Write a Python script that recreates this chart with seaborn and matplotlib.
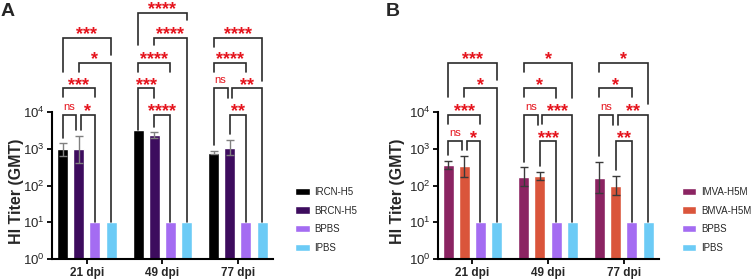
import numpy as np
import pandas as pd
import matplotlib
matplotlib.use("Agg")
import matplotlib.pyplot as plt
from matplotlib.ticker import FixedLocator, FixedFormatter, NullLocator
import seaborn as sns

# ---- data ----
days = ["21 dpi", "49 dpi", "77 dpi"]

groups_a = ["IRCN-H5", "BRCN-H5", "BPBS", "IPBS"]
colors_a = ["#000000", "#3d0c5e", "#a46cf2", "#6ccbf6"]
ircn_gmt = [950, 3200, 775]
ircn_lo = [640, 3200, 700]
ircn_hi = [1390, 3200, 860]
brcn_gmt = [950, 2330, 1060]
brcn_lo = [400, 1990, 670]
brcn_hi = [2200, 2770, 1710]

groups_b = ["IMVA-H5M", "BMVA-H5M", "BPBS", "IPBS"]
colors_b = ["#8b2462", "#da553b", "#a46cf2", "#6ccbf6"]
imva_gmt = [360, 174, 163]
imva_lo = [275, 97, 64]
imva_hi = [470, 310, 445]
bmva_gmt = [340, 178, 97]
bmva_lo = [174, 138, 55]
bmva_hi = [640, 235, 181]

bpbs_gmt = [10, 10, 10]
ipbs_gmt = [10, 10, 10]

# comparisons: (day, bar i, bar j, label)
sig_a = [
    (0, 0, 1, "ns"), (0, 1, 2, "*"), (0, 0, 2, "***"), (0, 1, 3, "*"), (0, 0, 3, "***"),
    (1, 0, 3, "****"), (1, 1, 3, "****"), (1, 0, 2, "****"), (1, 0, 1, "***"), (1, 1, 2, "****"),
    (2, 0, 3, "****"), (2, 0, 2, "****"), (2, 0, 1, "ns"), (2, 1, 3, "**"), (2, 1, 2, "**"),
]
sig_b = [
    (0, 0, 3, "***"), (0, 1, 3, "*"), (0, 0, 2, "***"), (0, 0, 1, "ns"), (0, 1, 2, "*"),
    (1, 0, 3, "*"), (1, 0, 2, "*"), (1, 0, 1, "ns"), (1, 1, 3, "***"), (1, 1, 2, "***"),
    (2, 0, 3, "*"), (2, 0, 2, "*"), (2, 0, 1, "ns"), (2, 1, 3, "**"), (2, 1, 2, "**"),
]

# bracket layout (log10 height of bar, left leg end, right leg end; None = down to bar)
L0, L1, L2, L3, L4, L5 = 3.2, 3.91, 4.63, 5.33, 6.0, 6.68
brk_a = [
    (L1, None, None), (L1, None, None), (L2, 4.41, 4.41), (L3, 5.08, None), (L4, 5.08, 5.54),
    (L5, 5.81, 6.49), (L4, 5.81, None), (L3, 5.08, 5.08), (L2, None, 4.37), (L1, None, None),
    (L4, 5.76, 4.84), (L3, 5.08, 5.08), (L2, None, 4.37), (L2, 4.37, None), (L1, None, None),
]
brk_b = [
    (L3, 4.41, 4.86), (L2, 4.41, None), (L1, 3.68, 3.68), (L0, None, None), (L0, None, None),
    (L3, 5.08, 4.37), (L2, 4.41, 4.37), (L1, None, 3.64), (L1, 3.68, None), (L0, None, None),
    (L3, 5.08, 4.2), (L2, 4.41, 4.41), (L1, None, 3.64), (L1, 3.64, None), (L0, None, None),
]

RED = "#e5141d"
LINE = "#2b2b2b"

sns.set_style("ticks")
plt.rcParams["font.family"] = ["Liberation Sans", "DejaVu Sans"]
plt.rcParams["mathtext.fontset"] = "custom"
plt.rcParams["mathtext.rm"] = "Liberation Sans:bold"
plt.rcParams["mathtext.bf"] = "Liberation Sans:bold"
plt.rcParams["mathtext.it"] = "Liberation Sans:bold"


def panel(ax, groups, colors, gmt, lo, hi, sig, brk, errcolor, legx):
    df = pd.DataFrame({
        "day": days * len(groups),
        "group": np.repeat(groups, len(days)),
        "titer": np.concatenate(gmt),
    })
    sns.barplot(data=df, x="day", y="titer", hue="group", order=days,
                hue_order=groups, palette=colors, saturation=1, width=0.856,
                gap=0.32, errorbar=None, legend=False, ax=ax)
    ax.set_yscale("log")

    centers = [[c[d].get_x() + c[d].get_width() / 2 for c in ax.containers]
               for d in range(len(days))]

    # error bars (only groups with spread)
    for k in range(len(groups)):
        if lo[k] is None:
            continue
        for d in range(len(days)):
            m, l, h = gmt[k][d], lo[k][d], hi[k][d]
            if l == h:
                continue
            ax.errorbar(centers[d][k], m, yerr=[[m - l], [h - m]], fmt="none",
                        ecolor=errcolor, elinewidth=1.0, capsize=3, capthick=1.0)

    def top(d, k):
        if lo[k] is None or lo[k][d] == hi[k][d]:
            return np.log10(gmt[k][d])
        return np.log10(hi[k][d]) + 0.15

    # which (day, level, bar) endpoints are shared by two brackets
    ends = {}
    for (d, i, j, _), (lv, _, _) in zip(sig, brk):
        ends.setdefault((d, lv, i), []).append("L")
        ends.setdefault((d, lv, j), []).append("R")
    nud = 0.03

    for (d, i, j, lab), (lv, le, re) in zip(sig, brk):
        xl, xr = centers[d][i], centers[d][j]
        if "R" in ends[(d, lv, i)]:
            xl += nud
        if "L" in ends[(d, lv, j)]:
            xr -= nud
        yl = top(d, i) if le is None else le
        yr = top(d, j) if re is None else re
        ax.plot([xl, xl, xr, xr], [10 ** yl, 10 ** lv, 10 ** lv, 10 ** yr],
                color=LINE, lw=1.2, clip_on=False, solid_joinstyle="miter")
        if lab == "ns":
            ax.annotate(lab, xy=((xl + xr) / 2, 10 ** lv), xytext=(0, 3.8),
                        textcoords="offset points", ha="center", va="baseline",
                        fontsize=8, color=RED, annotation_clip=False)
        else:
            ax.annotate(lab, xy=((xl + xr) / 2, 10 ** lv), xytext=(0, -1.0),
                        textcoords="offset points", ha="center", va="baseline",
                        fontsize=13, fontweight="bold", color=RED,
                        annotation_clip=False)

    ax.set_ylim(1, 1e4)
    ax.set_xlim(-0.46, 2.465)
    ax.yaxis.set_major_locator(FixedLocator([1, 10, 100, 1000, 10000]))
    ax.yaxis.set_major_formatter(FixedFormatter(
        [r"$\mathregular{10^{%d}}$" % e for e in range(5)]))
    ax.yaxis.set_minor_locator(NullLocator())
    sns.despine(ax=ax)
    for s in ["left", "bottom"]:
        ax.spines[s].set_linewidth(1.5)
        ax.spines[s].set_color("black")
    ax.tick_params(axis="both", direction="out", length=3.6, width=1.3,
                   color="black", pad=1.5)
    ax.tick_params(axis="y", labelsize=9.5)
    ax.tick_params(axis="x", labelsize=8.5, pad=2)
    for t in ax.get_xticklabels():
        t.set_fontweight("bold")
    ax.set_xlabel("")
    ax.set_ylabel("HI Titer (GMT)", fontsize=11.5, fontweight="bold")
    ax.yaxis.set_label_coords(-0.125, 0.46)

    ax.legend(handles=[c[0] for c in ax.containers], labels=groups,
              loc="upper left", bbox_to_anchor=(legx, 1 - 187 / 280),
              bbox_transform=ax.figure.transFigure, frameon=False,
              fontsize=7, handlelength=1.5, handleheight=0.8,
              handletextpad=0.5, labelspacing=0.88, borderpad=0,
              borderaxespad=0)


fig = plt.figure(figsize=(7.53, 2.8), dpi=100)
ax_a = fig.add_axes([52 / 753, 20.7 / 280, 221 / 753, 147.6 / 280])
ax_b = fig.add_axes([437.5 / 753, 20.7 / 280, 221.5 / 753, 147.6 / 280])

panel(ax_a, groups_a, colors_a,
      [ircn_gmt, brcn_gmt, bpbs_gmt, ipbs_gmt],
      [ircn_lo, brcn_lo, None, None], [ircn_hi, brcn_hi, None, None],
      sig_a, brk_a, "#808080", 295 / 753)
panel(ax_b, groups_b, colors_b,
      [imva_gmt, bmva_gmt, bpbs_gmt, ipbs_gmt],
      [imva_lo, bmva_lo, None, None], [imva_hi, bmva_hi, None, None],
      sig_b, brk_b, "#3a3a3a", 681.7 / 753)
ax_b.yaxis.set_label_coords(-0.147, 0.46)

fig.text(1 / 753, 1 - 3 / 280, "A", fontsize=14, fontweight="bold", va="top")
fig.text(386 / 753, 1 - 3 / 280, "B", fontsize=14, fontweight="bold", va="top")

fig.savefig("out.png", dpi=100)
